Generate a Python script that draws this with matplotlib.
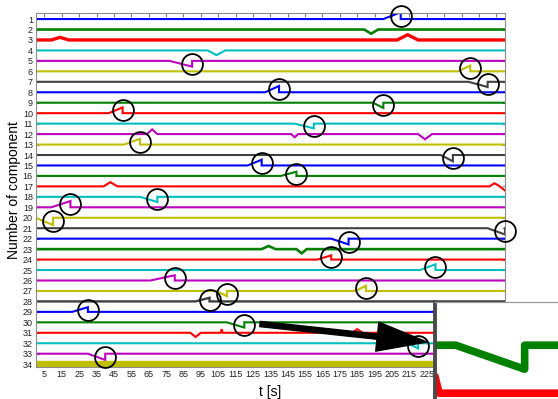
import matplotlib
matplotlib.use("Agg")
import matplotlib.pyplot as plt
from matplotlib.patches import FancyArrowPatch, ArrowStyle

plt.rcParams["font.family"] = ["Liberation Sans", "DejaVu Sans"]

# ---- data -------------------------------------------------------------
components = list(range(1, 35))
t_end = 270
x_ticks = list(range(5, 270, 10))

# step faults: a drift from ramp_start up to fault_time, then a jump back
fault_time = [10, 20, 30, 40, 50, 60, 70, 80, 90, 100, 110, 120, 130, 140,
              150, 160, 170, 180, 190, 200, 210, 220, 230, 240, 250, 260, 270]
fault_comp = [20, 19, 29, 33, 10, 13, 18, 26, 5, 28, 27, 30, 15, 8,
              16, 11, 24, 22, 27, 9, 1, 32, 25, 14, 6, 7, 21]
ramp_start = [0, 9, 21, 30, 42, 51, 60, 66, 77, 92, 104, 110, 122, 132,
              141, 149, 162, 170, 184, 194, 200, 214, 221, 233, 243, 249, 260]
ramp_size = [-0.7, 0.6, 0.45, -0.6, 0.55, 0.55, -0.5, 0.5, -0.55, 0.35, -0.5, -0.5, 0.55, 0.6,
             0.4, -0.45, 0.4, -0.55, 0.5, -0.5, 0.65, -0.5, 0.55, -0.6, 0.55, -0.5, -0.6]

# other excursions of the signals (triangular bumps)
bump_comp = [2, 3, 3, 4, 12, 12, 12, 17, 17, 17, 23, 23, 31, 31, 31]
bump_time = [193, 14, 214, 104, 67, 149, 224, 43, 264, 270, 134, 153, 92, 107, 185]
bump_width = [4, 5, 6, 5, 3, 2, 4, 4, 3, 3, 4, 3, 3, 0.6, 3]
bump_size = [-0.4, 0.25, 0.5, -0.45, 0.45, -0.3, -0.5, 0.4, 0.3, -0.4, 0.3, -0.4, -0.4, 0.35, 0.35]

# ---- style ------------------------------------------------------------
cycle = [(0, 0, 1), (0, 0.5, 0), (1, 0, 0), (0, 0.75, 0.75),
         (0.75, 0, 0.75), (0.75, 0.75, 0), (0.25, 0.25, 0.25)]
line_w = {3: 2.4, 2: 1.9, 28: 1.7, 23: 1.9, 34: 4.6}


def signal(comp):
    knots = [(0, 0.0), (t_end + 5, 0.0)]
    for c, t, s0, d in zip(fault_comp, fault_time, ramp_start, ramp_size):
        if c == comp:
            knots += [(s0, 0.0), (t, d), (t, 0.0)]
    for c, t, w, d in zip(bump_comp, bump_time, bump_width, bump_size):
        if c == comp:
            knots += [(t - w, 0.0), (t, d), (t + w, 0.0)]
    order = sorted(range(len(knots)), key=lambda i: (knots[i][0], i))
    ts = [knots[i][0] for i in order]
    ys = [comp - knots[i][1] for i in order]
    return ts, ys


W, H = 558, 399
fig = plt.figure(figsize=(W / 100, H / 100), dpi=100)
ax = fig.add_axes([35.7 / W, 1 - 367.3 / H, (505 - 35.7) / W, (367.3 - 13.3) / H])

for comp in components:
    ts, ys = signal(comp)
    ax.plot(ts, ys, color=cycle[(comp - 1) % 7], lw=line_w.get(comp, 1.5),
            solid_joinstyle="miter")

# circles around the faults
for c, t, d in zip(fault_comp, fault_time, ramp_size):
    ax.plot([t], [c - d / 2], marker="o", ms=15, mfc="none", mec="black",
            mew=1.3, clip_on=False, zorder=5)

ax.set_xlim(0, t_end)
ax.set_ylim(34.3, 0.45)
ax.set_xticks(x_ticks)
ax.set_yticks(components)
ax.tick_params(axis="both", direction="in", labelsize=6.5, top=True, right=True,
               color="#7f7f7f", labelcolor="#222222", pad=2)
ax.tick_params(axis="x", length=3)
ax.tick_params(axis="y", length=2)
for sp in ax.spines.values():
    sp.set_color("#8c8c8c")
    sp.set_linewidth(0.8)
ax.set_xlabel("t [s]", fontsize=10, labelpad=4)
ax.set_ylabel("Number of component", fontsize=10, labelpad=1)

# magnified view of components 30 and 31 around the fault at t = 120 s
ins = fig.add_axes([435 / W, 1 - 422 / H, 160 / W, 120 / H])
for comp in (30, 31):
    ts, ys = signal(comp)
    ins.plot(ts, ys, color=cycle[(comp - 1) % 7], lw=5.5)
ins.set_xlim(107, 130.2)
ins.set_ylim(31.6, 29.1)
ins.set_xticks([])
ins.set_yticks([])
for name, sp in ins.spines.items():
    sp.set_visible(name in ("left", "top"))
ins.spines["left"].set_color("#4a4a4a")
ins.spines["left"].set_linewidth(2.8)
ins.spines["top"].set_color("#9a9a9a")
ins.spines["top"].set_linewidth(0.9)

arrow = FancyArrowPatch((260 / W, 1 - 324 / H), (427 / W, 1 - 342 / H),
                        transform=fig.transFigure,
                        arrowstyle=ArrowStyle("simple", head_length=1.8,
                                              head_width=1.05, tail_width=0.19),
                        mutation_scale=20, color="black", shrinkA=0, shrinkB=0)
fig.patches.append(arrow)

fig.savefig("out.png", dpi=100)
